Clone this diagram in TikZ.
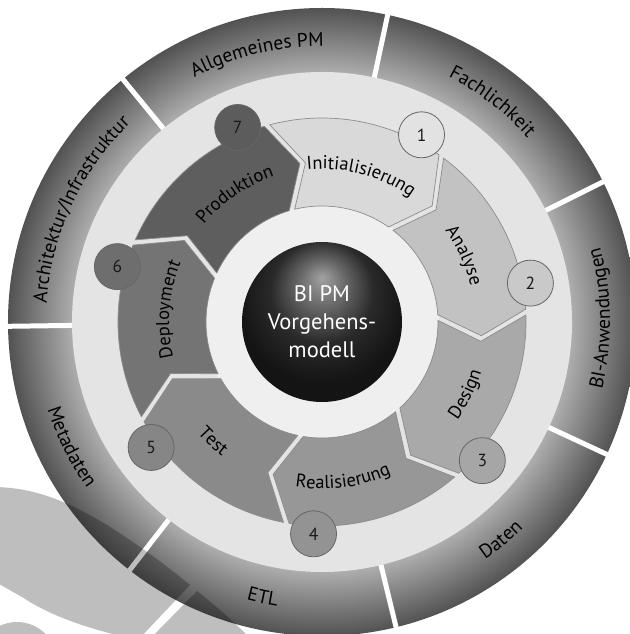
\documentclass[tikz,border=0pt]{standalone}
\usepackage{fontspec}
\setmainfont{PT Sans}
\usetikzlibrary{decorations.text}
\definecolor{bgring}{HTML}{E4E4E4}
\definecolor{innerring}{HTML}{EFEFEF}
\definecolor{ringin}{HTML}{ADADAD}
\definecolor{ringout}{HTML}{525252}
\definecolor{s1}{HTML}{D9D9D9}
\definecolor{s2}{HTML}{C2C2C2}
\definecolor{s3}{HTML}{A9A9A9}
\definecolor{s4}{HTML}{979797}
\definecolor{s5}{HTML}{8A8A8A}
\definecolor{s6}{HTML}{747474}
\definecolor{s7}{HTML}{5E5E5E}
\definecolor{c1}{HTML}{E2E2E2}
\definecolor{c2}{HTML}{C9C9C9}
\definecolor{c3}{HTML}{A6A6A6}
\definecolor{c4}{HTML}{939393}
\definecolor{c5}{HTML}{868686}
\definecolor{c6}{HTML}{6E6E6E}
\definecolor{c7}{HTML}{5C5C5C}
\definecolor{sphhi}{HTML}{A2A2A2}
\definecolor{sphmid}{HTML}{6A6A6A}
\definecolor{sphdark}{HTML}{2A2A2A}
\definecolor{sphrim}{HTML}{141414}
\definecolor{swoosh}{HTML}{BEBEBE}
\pgfdeclareradialshading{ringsh}{\pgfpointorigin}{color(0bp)=(ringin); color(19.9bp)=(ringin); color(25bp)=(ringout); color(50bp)=(ringout)}
\pgfdeclareradialshading{sphsh}{\pgfpoint{0bp}{14bp}}{color(0bp)=(sphhi); color(7bp)=(sphmid); color(16bp)=(sphdark); color(26bp)=(sphrim); color(50bp)=(sphrim)}
\newcommand\myOuterFnt{\fontsize{19.5pt}{19.5pt}\selectfont}
\newcommand\mySegFnt{\fontsize{18.5pt}{18.5pt}\selectfont}
\newcommand\labout[4]{\path[decorate,decoration={text along path,text align=center,text={|#3|#4}}] ({#1+50}:#2) arc[start angle={#1+50}, end angle={#1-50}, radius=#2];}
\newcommand\labin[4]{\path[decorate,decoration={text along path,text align=center,text={|#3|#4}}] ({#1-50}:#2) arc[start angle={#1-50}, end angle={#1+50}, radius=#2];}
\begin{document}
\begin{tikzpicture}[x=1pt,y=1pt,
  segbox/.style={draw=black!45, line width=0.7pt},
  numc/.style={circle, minimum size=46pt, inner sep=0pt, draw=black!60, line width=0.8pt, font=\fontsize{17.5pt}{17.5pt}\selectfont, text=black!90},
  gapline/.style={white, line width=5pt}]
\useasboundingbox (-322,-312) rectangle (307,322);
\fill[white] (-322,-312) rectangle (307,322);
% outer ring
\shade[shading=ringsh] (0,0) circle (314);
\foreach \t in {0,...,6} \draw[gapline] ({26.5+\t*51.4286}:248) -- ({26.5+\t*51.4286}:330);
\fill[bgring] (0,0) circle (250);
\fill[innerring] (0,0) circle (117);
% process segments
\foreach \k/\sc in {1/s1,2/s2,3/s3,4/s4,5/s5,6/s6,7/s7}{
  \pgfmathsetmacro\segB{62-(\k-1)*51.4286-7}
  \pgfmathsetmacro\segA{\segB+51.4286}
  \filldraw[segbox, fill=\sc] ({\segA-1.6}:204) arc[start angle={\segA-1.6}, end angle={\segB}, radius=204]
    -- ({\segB-8.5}:160) -- ({\segB}:116)
    arc[start angle={\segB}, end angle={\segA-2.8}, radius=116]
    -- ({\segA-10.5}:160) -- cycle;
}
% number circles
\foreach \k/\cc in {1/c1,2/c2,3/c3,4/c4,5/c5,6/c6,7/c7}
  \node[numc, fill=\cc] (n\k) at ({62-(\k-1)*51.4286}:212) {\k};
% sphere
\shade[shading=sphsh] (0,0) circle (80);
\node[align=center, text=white, font=\fontsize{22.5pt}{28pt}\selectfont] (core) at (0,0) {BI PM\\Vorgehens-\\modell};
% segment labels
\labout{75}{153}{\mySegFnt}{Initialisierung}
\labout{25}{153}{\mySegFnt}{Analyse}
\labin{-26.6}{167}{\mySegFnt}{Design}
\labin{277.6}{167}{\mySegFnt}{Realisierung}
\labin{227.5}{167}{\mySegFnt}{Test}
\labout{175.4}{153}{\mySegFnt}{Deployment}
\labout{124.3}{153}{\mySegFnt}{Produktion}
% outer labels
\labout{52.3}{276}{\myOuterFnt}{Fachlichkeit}
\labout{103.6}{276}{\myOuterFnt}{Allgemeines PM}
\labout{155}{276}{\myOuterFnt}{Architektur/Infrastruktur}
\labin{206.5}{288}{\myOuterFnt}{Metadaten}
\labin{257.9}{288}{\myOuterFnt}{ETL}
\labin{309.4}{288}{\myOuterFnt}{Daten}
\labin{0.8}{288}{\myOuterFnt}{BI-Anwendungen}
% swoosh overlay
\begin{scope}[blend mode=multiply]
\fill[swoosh] (-330,-165) .. controls (-285,-165) and (-250,-182) .. (-215,-203)
  .. controls (-185,-222) and (-160,-240) .. (-132,-263) -- (-184,-318)
  .. controls (-230,-308) and (-270,-295) .. (-300,-275) -- (-330,-258) -- cycle;
\fill[swoosh] (-125,-269) .. controls (-105,-285) and (-90,-298) .. (-70,-318) -- (-177,-322) -- cycle;
\fill[swoosh] (-305,-340) circle (40);
\end{scope}
\end{tikzpicture}
\end{document}
